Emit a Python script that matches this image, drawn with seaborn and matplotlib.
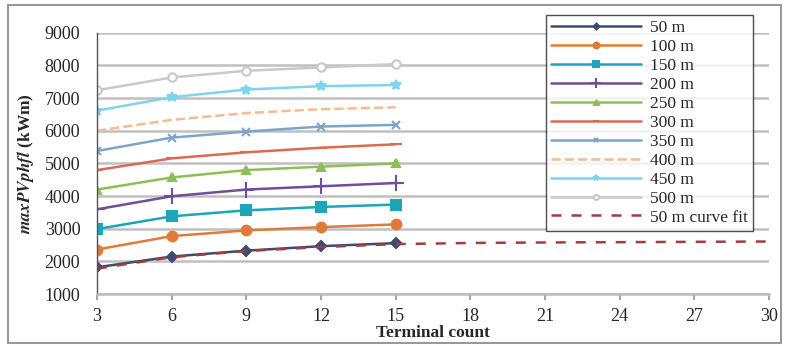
import matplotlib
matplotlib.use("Agg")
import matplotlib.pyplot as plt
import seaborn as sns
import pandas as pd
from matplotlib.patches import Rectangle

sns.set_theme(style="white")
plt.rcParams['font.family'] = ['Liberation Serif', 'DejaVu Serif']
plt.rcParams['mathtext.fontset'] = 'stix'

terminals = [3, 6, 9, 12, 15]
s50 = [1820, 2150, 2330, 2467, 2560]
s100 = [2364, 2774, 2950, 3050, 3133]
s150 = [2990, 3380, 3564, 3667, 3740]
s200 = [3595, 3995, 4200, 4300, 4400]
s250 = [4200, 4570, 4795, 4900, 5000]
s300 = [4795, 5154, 5340, 5480, 5585]
s350 = [5380, 5790, 5974, 6128, 6180]
s400 = [6000, 6333, 6540, 6660, 6720]
s450 = [6615, 7026, 7262, 7364, 7400]
s500 = [7240, 7630, 7836, 7938, 8040]
fit_x = [3, 6, 9, 12, 15, 18, 21, 24, 27, 30]
fit_y = [1780, 2130, 2320, 2440, 2530, 2565, 2580, 2590, 2600, 2610]

labels = ["50 m", "100 m", "150 m", "200 m", "250 m", "300 m", "350 m", "400 m", "450 m", "500 m"]
series = [s50, s100, s150, s200, s250, s300, s350, s400, s450, s500]
colors = ["#3a4d70", "#e07a38", "#1ca6b8", "#6e4f98", "#8dbf57", "#dc6a52", "#7fa4c9", "#f6bb90", "#7ed4ea", "#c9c9c9"]
markers = ["D", "o", "s", "+", "^", "_", "x", None, "*", "o"]
msizes = [5, 7, 7, 11, 6, 8, 6, 0, 7, 6]

fig = plt.figure(figsize=(7.85, 3.46), dpi=100)
ax = fig.add_axes([0.1236, 0.150, 0.856, 0.7554])

for i, (lab, vals) in enumerate(zip(labels, series)):
    df = pd.DataFrame({"x": terminals, "y": vals})
    kw = {}
    if markers[i] is not None:
        kw["marker"] = markers[i]
        kw["markersize"] = msizes[i]
        kw["markeredgewidth"] = 1.5
        kw["markeredgecolor"] = colors[i]
        kw["markerfacecolor"] = "white" if lab == "500 m" else colors[i]
    ls = "--" if lab == "400 m" else "-"
    sns.lineplot(data=df, x="x", y="y", ax=ax, color=colors[i], label=lab,
                 linestyle=ls, linewidth=1.8, **kw)

dff = pd.DataFrame({"x": fit_x, "y": fit_y})
sns.lineplot(data=dff, x="x", y="y", ax=ax, color="#a33c3c", linestyle=(0, (4, 4)),
             linewidth=1.8, label="50 m curve fit")

ax.set_xlim(3, 30)
ax.set_ylim(1000, 9000)
ax.set_xticks(range(3, 31, 3))
ax.set_yticks(range(1000, 9001, 1000))
ax.yaxis.grid(True, color="#c0c0c0", linewidth=1.8)
ax.set_axisbelow(True)
for side in ["top", "right"]:
    ax.spines[side].set_visible(False)
ax.spines["left"].set_color("#555555")
ax.spines["left"].set_linewidth(1.0)
ax.spines["bottom"].set_color("#bbbbbb")
ax.spines["bottom"].set_linewidth(1.8)
ax.tick_params(axis="x", direction="out", length=4, color="#999999", labelsize=13, pad=6, bottom=True)
ax.tick_params(axis="y", length=0, labelsize=13, pad=12)
ax.set_xlabel("Terminal count", fontsize=12.5, fontweight="bold", labelpad=0)
ax.set_ylabel(r"$\mathbfit{maxPVphfl}$" + " (kWm)", fontsize=12.5, fontweight="bold", labelpad=6)

leg = ax.legend(loc="upper left", bbox_to_anchor=(0.6955, 0.957), bbox_transform=fig.transFigure,
                fontsize=12.5, frameon=True, fancybox=False, edgecolor="#222222",
                handlelength=5.2, labelspacing=0.16, borderpad=0.3, handletextpad=0.5,
                borderaxespad=0, markerscale=0.6)
leg.get_frame().set_linewidth(1.0)

fig.patches.append(Rectangle((0.01, 0.01), 0.985, 0.975, transform=fig.transFigure,
                             fill=False, edgecolor="#999999", linewidth=1.5))

fig.savefig("out.png", dpi=100)
